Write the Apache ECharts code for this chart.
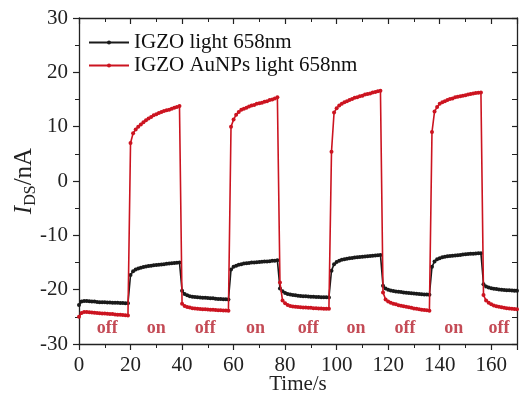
<!DOCTYPE html>
<html>
<head>
<meta charset="utf-8">
<script src="https://cdn.jsdelivr.net/npm/echarts@6/dist/echarts.min.js"></script>
<style>
  html, body { margin: 0; padding: 0; background: #fff; }
  #chart { width: 519px; height: 398px; }
</style>
</head>
<body>
<div id="chart"></div>
<script>
// sampling step of the measurement (s)
const dt = 1;

// IGZO light 658nm, one value per second from t = 0 to 170 s
const igzo = [
  // off 0-19
  -22.8, -22.2, -22.1, -22.1, -22.15, -22.2, -22.2, -22.25, -22.3, -22.3,
  -22.3, -22.35, -22.35, -22.4, -22.4, -22.4, -22.45, -22.45, -22.5, -22.5,
  // on 20-39
  -17.3, -16.6, -16.3, -16.1, -15.95, -15.85, -15.75, -15.65, -15.6, -15.5,
  -15.45, -15.4, -15.35, -15.3, -15.25, -15.2, -15.15, -15.1, -15.05, -15.0,
  // off 40-58
  -20.2, -20.8, -21.05, -21.2, -21.3, -21.35, -21.4, -21.45, -21.5, -21.5,
  -21.55, -21.6, -21.6, -21.65, -21.7, -21.7, -21.75, -21.75, -21.8,
  // on 59-77
  -16.3, -15.8, -15.6, -15.4, -15.3, -15.2, -15.15, -15.1, -15.0, -15.0,
  -14.95, -14.9, -14.85, -14.8, -14.8, -14.75, -14.7, -14.7, -14.6,
  // off 78-97
  -19.8, -20.3, -20.6, -20.8, -20.9, -21.0, -21.05, -21.1, -21.15, -21.2,
  -21.2, -21.25, -21.3, -21.3, -21.35, -21.35, -21.4, -21.4, -21.4, -21.45,
  // on 98-117
  -16.5, -15.3, -14.9, -14.7, -14.5, -14.4, -14.3, -14.2, -14.15, -14.1,
  -14.05, -14.0, -13.95, -13.9, -13.85, -13.8, -13.75, -13.7, -13.65, -13.6,
  // off 118-136
  -19.3, -19.8, -20.0, -20.15, -20.25, -20.35, -20.4, -20.45, -20.5, -20.55,
  -20.6, -20.65, -20.7, -20.75, -20.8, -20.85, -20.9, -20.9, -20.95,
  // on 137-156
  -15.8, -14.8, -14.4, -14.2, -14.05, -13.95, -13.85, -13.8, -13.75, -13.7,
  -13.65, -13.6, -13.55, -13.5, -13.45, -13.4, -13.4, -13.35, -13.3, -13.3,
  // off 157-170
  -19.0, -19.4, -19.6, -19.75, -19.85, -19.9, -19.95, -20.0, -20.05, -20.1,
  -20.1, -20.15, -20.2, -20.2
];

// IGZO AuNPs light 658nm
const igzoAu = [
  // off 0-19
  -25.0, -24.3, -24.1, -24.1, -24.15, -24.2, -24.25, -24.3, -24.35, -24.4,
  -24.4, -24.45, -24.5, -24.5, -24.55, -24.6, -24.6, -24.65, -24.7, -24.75,
  // on 20-39
  7.0, 8.8, 9.5, 10.0, 10.4, 10.8, 11.2, 11.5, 11.8, 12.1,
  12.3, 12.5, 12.7, 12.9, 13.0, 13.1, 13.3, 13.5, 13.6, 13.8,
  // off 40-58
  -22.6, -23.0, -23.2, -23.3, -23.4, -23.45, -23.5, -23.55, -23.6, -23.6,
  -23.65, -23.7, -23.7, -23.75, -23.8, -23.8, -23.85, -23.85, -23.9,
  // on 59-77
  10.0, 11.3, 12.2, 12.7, 13.1, 13.3, 13.5, 13.7, 13.9, 14.0,
  14.2, 14.3, 14.4, 14.6, 14.7, 14.9, 15.0, 15.2, 15.4,
  // off 78-97
  -18.7, -22.0, -22.5, -22.8, -23.0, -23.1, -23.15, -23.2, -23.25, -23.3,
  -23.3, -23.35, -23.35, -23.4, -23.4, -23.45, -23.45, -23.5, -23.5, -23.5,
  // on 98-117
  5.4, 12.6, 13.4, 13.9, 14.2, 14.5, 14.7, 14.9, 15.1, 15.3,
  15.4, 15.6, 15.7, 15.9, 16.0, 16.1, 16.3, 16.4, 16.5, 16.6,
  // off 118-136
  -20.5, -21.8, -22.2, -22.4, -22.6, -22.7, -22.85, -22.95, -23.05, -23.15,
  -23.25, -23.35, -23.45, -23.5, -23.6, -23.7, -23.75, -23.8, -23.9,
  // on 137-156
  9.0, 12.8, 13.6, 14.2, 14.5, 14.7, 14.9, 15.1, 15.2, 15.4,
  15.5, 15.6, 15.7, 15.8, 15.9, 16.0, 16.1, 16.2, 16.25, 16.3,
  // off 157-170
  -21.0, -22.0, -22.4, -22.7, -22.9, -23.05, -23.15, -23.25, -23.35, -23.4,
  -23.45, -23.5, -23.55, -23.6
];

// light state annotations along the bottom
const stateTimes = [11, 30, 49, 68.5, 89, 107.5, 126.5, 145.5, 163];
const stateNames = ['off', 'on', 'off', 'on', 'off', 'on', 'off', 'on', 'off'];
const stateLevel = -27.2;

const names = ['IGZO light 658nm', 'IGZO AuNPs light 658nm'];

const serif = 'Liberation Serif, Times New Roman, serif';
const axisColor = '#222';
const textColor = '#222';

const toPairs = vals => vals.map((v, i) => [i * dt, v]);

const chart = echarts.init(document.getElementById('chart'));

const option = {
  animation: false,
  backgroundColor: '#fff',
  grid: { left: 79, right: 2, top: 18, bottom: 54, outerBoundsMode: 'none' },
  legend: {
    data: names,
    orient: 'vertical',
    left: 83,
    top: 27,
    itemWidth: 40,
    itemHeight: 5,
    itemGap: 2,
    textStyle: { fontFamily: serif, fontSize: 21, color: '#111' }
  },
  xAxis: [
    {
      type: 'value',
      min: 0,
      max: 170,
      interval: 20,
      position: 'bottom',
      name: 'Time/s',
      nameLocation: 'middle',
      nameGap: 30,
      nameMoveOverlap: false,
      nameTextStyle: { fontFamily: serif, fontSize: 21, color: textColor },
      axisLine: { onZero: false, lineStyle: { color: axisColor, width: 1.3 } },
      axisTick: { inside: false, length: 6, lineStyle: { color: axisColor, width: 1.2 } },
      minorTick: { show: true, splitNumber: 2, length: 4, lineStyle: { color: axisColor, width: 1 } },
      axisLabel: { showMaxLabel: false, margin: 11, fontFamily: serif, fontSize: 21, color: textColor },
      splitLine: { show: false }
    },
    {
      type: 'value',
      min: 0,
      max: 170,
      interval: 20,
      position: 'top',
      axisLine: { onZero: false, lineStyle: { color: axisColor, width: 1.3 } },
      axisTick: { inside: true, length: 6, lineStyle: { color: axisColor, width: 1.2 } },
      minorTick: { show: true, splitNumber: 2, length: 4, lineStyle: { color: axisColor, width: 1 } },
      axisLabel: { show: false },
      splitLine: { show: false }
    }
  ],
  yAxis: [
    {
      type: 'value',
      min: -30,
      max: 30,
      interval: 10,
      position: 'left',
      name: '{i|I}{s|DS}{n|/nA}',
      nameLocation: 'middle',
      nameGap: 44,
      nameMoveOverlap: false,
      nameRotate: 90,
      nameTextStyle: {
        fontFamily: serif,
        color: textColor,
        rich: {
          i: { fontFamily: serif, fontSize: 25, fontStyle: 'italic', lineHeight: 23, verticalAlign: 'top', color: textColor },
          s: { fontFamily: serif, fontSize: 16, lineHeight: 16, padding: [11, 0, 0, 0], verticalAlign: 'top', color: textColor },
          n: { fontFamily: serif, fontSize: 25, lineHeight: 23, verticalAlign: 'top', color: textColor }
        }
      },
      axisLine: { onZero: false, lineStyle: { color: axisColor, width: 1.3 } },
      axisTick: { inside: false, length: 6, lineStyle: { color: axisColor, width: 1.2 } },
      minorTick: { show: true, splitNumber: 2, length: 4, lineStyle: { color: axisColor, width: 1 } },
      axisLabel: { margin: 11, fontFamily: serif, fontSize: 21, color: textColor },
      splitLine: { show: false }
    },
    {
      type: 'value',
      min: -30,
      max: 30,
      interval: 10,
      position: 'right',
      axisLine: { onZero: false, lineStyle: { color: axisColor, width: 1.3 } },
      axisTick: { inside: true, length: 5, lineStyle: { color: axisColor, width: 1.2 } },
      minorTick: { show: true, splitNumber: 2, length: 5, lineStyle: { color: axisColor, width: 1 } },
      axisLabel: { show: false },
      splitLine: { show: false }
    }
  ],
  series: [
    {
      name: names[0],
      type: 'line',
      data: toPairs(igzo),
      symbol: 'circle',
      symbolSize: 4,
      showAllSymbol: true,
      color: '#1a1a1a',
      lineStyle: { width: 1.6, color: '#1a1a1a' },
      z: 2
    },
    {
      name: names[1],
      type: 'line',
      data: toPairs(igzoAu),
      symbol: 'circle',
      symbolSize: 4,
      showAllSymbol: true,
      color: '#cc1420',
      lineStyle: { width: 1.6, color: '#cc1420' },
      z: 3
    },
    {
      name: 'state',
      type: 'scatter',
      data: stateTimes.map((t, i) => ({ value: [t, stateLevel], name: stateNames[i] })),
      symbolSize: 0,
      silent: true,
      label: {
        show: true,
        position: 'inside',
        formatter: p => p.name,
        fontFamily: serif,
        fontSize: 18,
        fontWeight: 'bold',
        color: '#b51e2c'
      },
      z: 4
    }
  ]
};

chart.setOption(option);
</script>
</body>
</html>
